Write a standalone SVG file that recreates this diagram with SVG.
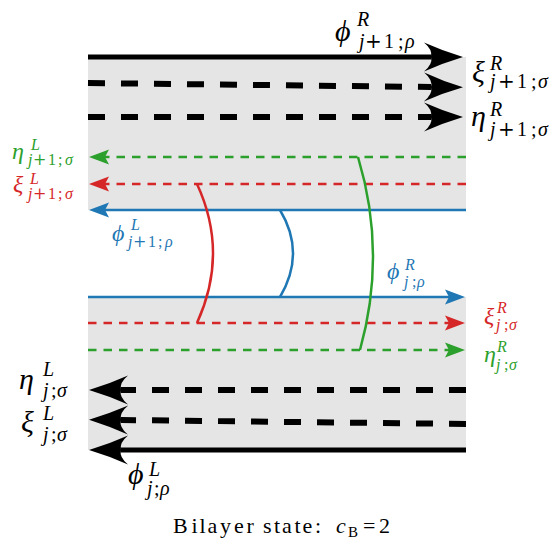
<svg xmlns="http://www.w3.org/2000/svg" width="558" height="552" viewBox="0 0 558 552">
<style>
.band{fill:#e5e5e5}
.blk{fill:none;stroke:#000;stroke-width:5}
.blkd{fill:none;stroke:#000;stroke-width:6;stroke-dasharray:17 16}
.blue{fill:none;stroke:#1f77b4;stroke-width:2.5}
.red{fill:none;stroke:#d62728;stroke-width:2.5}
.green{fill:none;stroke:#2ca02c;stroke-width:2.5}
.dash{stroke-dasharray:8.5 7}
text{font-family:"Liberation Serif","DejaVu Serif",serif;font-style:italic}
.m{font-size:30px}
.s{font-size:20px}
.cm{font-size:24px}
.cs{font-size:16px}
.up{font-style:normal}
.pl{font-family:"DejaVu Serif",serif;font-style:normal}
.cap{font-size:22px}
.tb{fill:#1f77b4}.tr{fill:#d62728}.tg{fill:#2ca02c}
</style>
<defs>
<marker id="big" markerUnits="userSpaceOnUse" viewBox="-41 -16 42 32" markerWidth="42" markerHeight="32" refX="-32" refY="0" orient="auto">
<path d="M0,0 Q-20,-6 -39,-14.5 Q-30,-7 -32,0 Q-30,7 -39,14.5 Q-20,6 0,0 Z" fill="#000"/>
</marker>
<marker id="ab" markerUnits="userSpaceOnUse" viewBox="-21 -8 22 16" markerWidth="22" markerHeight="16" refX="-16" refY="0" orient="auto">
<path d="M0,0 L-20,-7.5 L-16,0 L-20,7.5 Z" fill="#1f77b4"/>
</marker>
<marker id="ar" markerUnits="userSpaceOnUse" viewBox="-21 -8 22 16" markerWidth="22" markerHeight="16" refX="-16" refY="0" orient="auto">
<path d="M0,0 L-20,-7.5 L-16,0 L-20,7.5 Z" fill="#d62728"/>
</marker>
<marker id="ag" markerUnits="userSpaceOnUse" viewBox="-21 -8 22 16" markerWidth="22" markerHeight="16" refX="-16" refY="0" orient="auto">
<path d="M0,0 L-20,-7.5 L-16,0 L-20,7.5 Z" fill="#2ca02c"/>
</marker>
</defs>
<g id="bands">
<rect class="band" x="88" y="57" width="378" height="153"/>
<rect class="band" x="88" y="297" width="378" height="153"/>
</g>
<g id="connectors">
<path class="blk" d="M88,57 L431,57" marker-end="url(#big)"/>
<path class="blkd" d="M88,83 L431,87" marker-end="url(#big)"/>
<path class="blkd" d="M88,117 L431,117" marker-end="url(#big)"/>
<path class="green dash" d="M466,157 L105,157" marker-end="url(#ag)"/>
<path class="red dash" d="M466,184 L105,184" marker-end="url(#ar)"/>
<path class="blue" d="M466,210 L105,210" marker-end="url(#ab)"/>
<path class="blue" d="M88,297 L449,297" marker-end="url(#ab)"/>
<path class="red dash" d="M88,323 L449,323" marker-end="url(#ar)"/>
<path class="green dash" d="M88,350 L449,350" marker-end="url(#ag)"/>
<path class="blkd" d="M466,390 L121,390" marker-end="url(#big)"/>
<path class="blkd" d="M466,424 L121,420" marker-end="url(#big)"/>
<path class="blk" d="M466,450 L121,450" marker-end="url(#big)"/>
<path class="red" d="M197,184 Q229,253 197,323"/>
<path class="blue" d="M280,210 Q306,253 280,297"/>
<path class="green" d="M358,157 Q387,253 360,350"/>
</g>
<g id="label-phiR-j1">
<text class="m" x="335" y="41">ϕ</text>
<text class="s" x="357" y="26">R</text>
<text class="s" y="48"><tspan x="359">j</tspan><tspan class="pl" x="365">+</tspan><tspan class="up" x="384 398">1;</tspan><tspan x="405">ρ</tspan></text>
</g>
<g id="label-xiR-j1">
<text class="m" x="472" y="82">ξ</text>
<text class="s" x="490" y="70">R</text>
<text class="s" y="88"><tspan x="490">j</tspan><tspan class="pl" x="498">+</tspan><tspan class="up" x="517 531">1;</tspan><tspan x="538">σ</tspan></text>
</g>
<g id="label-etaR-j1">
<text class="m" x="471" y="126">η</text>
<text class="s" x="490" y="116">R</text>
<text class="s" y="136"><tspan x="490">j</tspan><tspan class="pl" x="498">+</tspan><tspan class="up" x="517 531">1;</tspan><tspan x="538">σ</tspan></text>
</g>
<g id="label-etaL-j1" class="tg">
<text class="cm" x="12" y="159">η</text>
<text class="cs" x="31" y="150">L</text>
<text class="cs" y="165"><tspan x="28">j</tspan><tspan class="pl" x="33">+</tspan><tspan class="up" x="48 58">1;</tspan><tspan x="65">σ</tspan></text>
</g>
<g id="label-xiL-j1" class="tr">
<text class="cm" x="13" y="192">ξ</text>
<text class="cs" x="30" y="184">L</text>
<text class="cs" y="199"><tspan x="28">j</tspan><tspan class="pl" x="33">+</tspan><tspan class="up" x="48 58">1;</tspan><tspan x="65">σ</tspan></text>
</g>
<g id="label-phiL-j1" class="tb">
<text class="cm" x="112" y="241">ϕ</text>
<text class="cs" x="131" y="230">L</text>
<text class="cs" y="247"><tspan x="128">j</tspan><tspan class="pl" x="133">+</tspan><tspan class="up" x="148 158">1;</tspan><tspan x="165">ρ</tspan></text>
</g>
<g id="label-phiR-j" class="tb">
<text class="cm" x="387" y="279">ϕ</text>
<text class="cs" x="405" y="270">R</text>
<text class="cs" y="287"><tspan x="404">j</tspan><tspan class="up" x="412">;</tspan><tspan x="417">ρ</tspan></text>
</g>
<g id="label-xiR-j" class="tr">
<text class="cm" x="484" y="324">ξ</text>
<text class="cs" x="497" y="313">R</text>
<text class="cs" y="330"><tspan x="496">j</tspan><tspan class="up" x="504">;</tspan><tspan x="509">σ</tspan></text>
</g>
<g id="label-etaR-j" class="tg">
<text class="cm" x="484" y="362">η</text>
<text class="cs" x="497" y="352">R</text>
<text class="cs" y="370"><tspan x="496">j</tspan><tspan class="up" x="504">;</tspan><tspan x="509">σ</tspan></text>
</g>
<g id="label-etaL-j">
<text class="m" x="19" y="389">η</text>
<text class="s" x="43" y="376">L</text>
<text class="s" y="397"><tspan x="43">j</tspan><tspan class="up" x="51">;</tspan><tspan x="57">σ</tspan></text>
</g>
<g id="label-xiL-j">
<text class="m" x="21" y="432">ξ</text>
<text class="s" x="43" y="420">L</text>
<text class="s" y="441"><tspan x="43">j</tspan><tspan class="up" x="51">;</tspan><tspan x="57">σ</tspan></text>
</g>
<g id="label-phiL-j">
<text class="m" x="128" y="484">ϕ</text>
<text class="s" x="149" y="476">L</text>
<text class="s" y="495"><tspan x="147">j</tspan><tspan class="up" x="154">;</tspan><tspan x="160">ρ</tspan></text>
</g>
<g id="caption">
<text class="cap up" y="533" x="173 191.5 199.5 207.5 220 234 246.5 256 263 274 282 294.5 302.5 315">Bilayer state:</text>
<text class="cap" x="336" y="533">c</text>
<text class="cap up" x="348" y="537" style="font-size:15px">B</text>
<text class="cap up" x="363" y="533">=</text>
<text class="cap up" x="379" y="533">2</text>
</g>
</svg>
